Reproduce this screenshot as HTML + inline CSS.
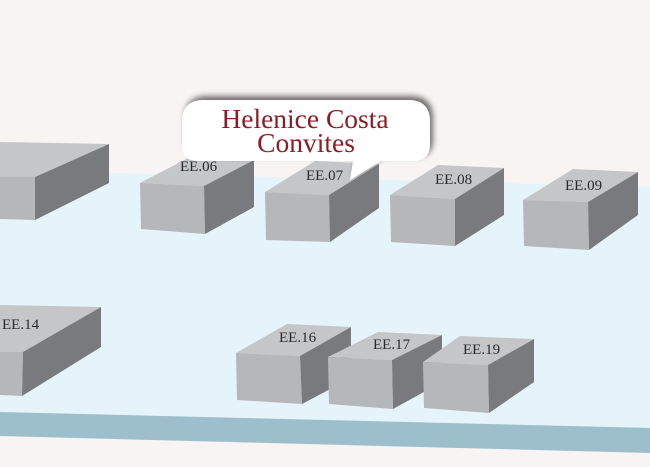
<!DOCTYPE html>
<html><head><meta charset="utf-8"><style>
html,body{margin:0;padding:0;background:#f7f4f3;}
svg{display:block;}
.t{fill:#c5c6c8}.f{fill:#b6b7ba}.s{fill:#797a7e}
.lbl{font-family:"Liberation Serif",serif;font-size:15px;fill:#2b2b2b;}
</style></head><body>
<svg width="650" height="467" viewBox="0 0 650 467" xmlns="http://www.w3.org/2000/svg">
<defs>
<filter id="sh" x="-10%" y="-30%" width="120%" height="160%">
<feGaussianBlur in="SourceAlpha" stdDeviation="3"/>
<feOffset dx="3" dy="-4" result="b"/>
<feComponentTransfer><feFuncA type="linear" slope="0.55"/></feComponentTransfer>
<feMerge><feMergeNode/><feMergeNode in="SourceGraphic"/></feMerge>
</filter>
</defs>
<rect width="650" height="467" fill="#f7f4f3"/>
<!-- floor -->
<polygon points="0,170 650,187 650,428 0,412" fill="#e5f3fa"/>
<polygon points="0,412 650,428 650,453 0,436" fill="#9dbecb"/>

<!-- Box left partial -->
<polygon class="t" points="0,142 109,144 35,177 0,177"/>
<polygon class="f" points="0,177 35,177 35,220 0,219"/>
<polygon class="s" points="35,177 109,144 109,183 35,220"/>

<!-- EE.06 -->
<polygon class="t" points="140,183 204,186 254,160 190,157"/>
<polygon class="f" points="140,183 204,186 205,234 141,229"/>
<polygon class="s" points="204,186 254,160 254,207 205,234"/>
<text class="lbl" x="180" y="171">EE.06</text>

<!-- EE.07 -->
<polygon class="t" points="265,192 329,195 379,164 315,161"/>
<polygon class="f" points="265,192 329,195 330,242 266,240"/>
<polygon class="s" points="329,195 379,164 379,208 330,242"/>
<text class="lbl" x="306" y="180">EE.07</text>

<!-- EE.08 -->
<polygon class="t" points="390,195 455,199 504,168 438,165"/>
<polygon class="f" points="390,195 455,199 455,246 391,242"/>
<polygon class="s" points="455,199 504,168 504,215 455,246"/>
<text class="lbl" x="435" y="184">EE.08</text>

<!-- EE.09 -->
<polygon class="t" points="523,200 588,202 638,172 573,169"/>
<polygon class="f" points="523,200 588,202 589,250 524,246"/>
<polygon class="s" points="588,202 638,172 638,215 589,250"/>
<text class="lbl" x="565" y="190">EE.09</text>

<!-- EE.14 -->
<polygon class="t" points="0,305 101,307 23,352 0,352"/>
<polygon class="f" points="0,352 23,352 22,396 0,395"/>
<polygon class="s" points="23,352 101,307 101,347 22,396"/>
<text class="lbl" x="2" y="329">EE.14</text>

<!-- EE.16 -->
<polygon class="t" points="236,353 300,356 351,327 287,324"/>
<polygon class="f" points="236,353 300,356 302,404 237,400"/>
<polygon class="s" points="300,356 351,327 351,378 302,404"/>
<text class="lbl" x="279" y="342">EE.16</text>

<!-- EE.17 -->
<polygon class="t" points="328,357 392,360 442,335 378,332"/>
<polygon class="f" points="328,357 392,360 393,409 329,404"/>
<polygon class="s" points="392,360 442,335 442,382 393,409"/>
<text class="lbl" x="373" y="349">EE.17</text>

<!-- EE.19 -->
<polygon class="t" points="423,362 488,365 534,339 460,336"/>
<polygon class="f" points="423,362 488,365 489,413 424,408"/>
<polygon class="s" points="488,365 534,339 534,382 489,413"/>
<text class="lbl" x="463" y="354">EE.19</text>

<!-- Callout -->
<g filter="url(#sh)">
<path d="M204,100 L408,100 Q430,100 430,122 L430,144 Q430,161 413,161 L381,161 L350,180 L353,161 L198,161 Q182,161 182,145 L182,122 Q182,100 204,100 Z" fill="#ffffff"/>
</g>
<text x="305" y="128" text-anchor="middle" font-family="'Liberation Serif',serif" font-size="27.5" fill="#8c1c26">Helenice Costa</text>
<text x="306" y="152" text-anchor="middle" font-family="'Liberation Serif',serif" font-size="27.5" fill="#8c1c26">Convites</text>
</svg>
</body></html>
